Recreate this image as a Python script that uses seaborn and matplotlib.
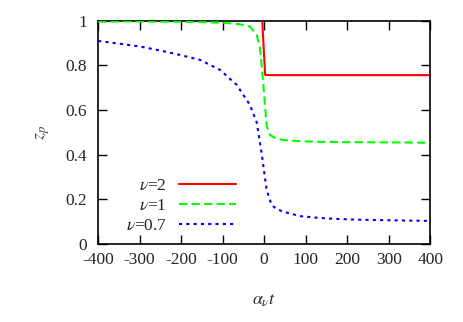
import seaborn as sns
import pandas as pd
import matplotlib.pyplot as plt

# -------------------------------------------------
# Data
# -------------------------------------------------
t_nu2 = [-4.5, -4, 2.4, 20, 100, 200, 300, 400]
z_nu2 = [1.0, 0.98, 0.757, 0.756, 0.756, 0.756, 0.756, 0.756]

t_nu1 = [-400, -300, -200, -100, -60, -34, -18, -10, -2.4, 6, 14, 30, 46, 80, 127, 200, 300, 400]
z_nu1 = [0.996, 0.996, 0.995, 0.991, 0.984, 0.973, 0.936, 0.878, 0.727, 0.53, 0.488, 0.472, 0.466, 0.461, 0.458, 0.456, 0.455, 0.454]

t_nu07 = [-400, -350, -299, -250, -202, -154, -106, -66, -34, -18, -6, 6, 18, 30, 46, 87, 127, 167, 230, 287, 350, 400]
z_nu07 = [0.909, 0.897, 0.884, 0.866, 0.846, 0.824, 0.779, 0.712, 0.622, 0.545, 0.406, 0.242, 0.175, 0.157, 0.145, 0.125, 0.118, 0.113, 0.109, 0.107, 0.105, 0.104]

labels = [r"$\nu$=2", r"$\nu$=1", r"$\nu$=0.7"]

df = pd.concat([
    pd.DataFrame({"t": t_nu2, "z": z_nu2, "nu": labels[0]}),
    pd.DataFrame({"t": t_nu1, "z": z_nu1, "nu": labels[1]}),
    pd.DataFrame({"t": t_nu07, "z": z_nu07, "nu": labels[2]}),
])

# -------------------------------------------------
# Style
# -------------------------------------------------
sns.set_style("ticks")
plt.rcParams["font.family"] = ["Liberation Serif", "DejaVu Serif"]
plt.rcParams["mathtext.fontset"] = "stix"
plt.rcParams["axes.unicode_minus"] = False

colors = {labels[0]: "#ff0000", labels[1]: "#00ff00", labels[2]: "#0000ff"}
dashes = {labels[0]: "", labels[1]: (4, 2), labels[2]: (1.5, 2)}

fig, ax = plt.subplots(figsize=(4.63, 3.22), dpi=100)
sns.lineplot(
    data=df,
    x="t",
    y="z",
    hue="nu",
    style="nu",
    palette=colors,
    dashes=dashes,
    linewidth=1.5,
    ax=ax,
)
for ln in ax.lines:
    ln.set_zorder(3)

ax.set_xlim(-400, 400)
ax.set_ylim(0, 1)
ax.set_xticks(range(-400, 401, 100))
ax.set_yticks([0, 0.2, 0.4, 0.6, 0.8, 1])
ax.set_yticklabels(["0", "0.2", "0.4", "0.6", "0.8", "1"])
ax.tick_params(direction="in", length=6.5, width=1, labelsize=12.5,
               top=True, right=True, color="black")
ax.tick_params(axis="y", pad=8)
ax.tick_params(axis="x", pad=6)
for s in ax.spines.values():
    s.set_linewidth(1.2)
    s.set_color("black")

ax.set_xlabel(r"$\alpha_\nu t$", fontsize=13, labelpad=17)
ax.set_ylabel(r"$z_p$", fontsize=13, labelpad=10, color="#444444")

leg = ax.legend(
    loc="lower right",
    bbox_to_anchor=((236 - 98) / 332, 0.045),
    borderpad=0,
    borderaxespad=0,
    frameon=False,
    markerfirst=False,
    handlelength=3.3,
    handletextpad=0.7,
    labelspacing=0.21,
    fontsize=12.5,
    title=None,
)
for txt in leg.get_texts():
    txt.set_ha("right")

fig.subplots_adjust(left=0.212, right=0.929, top=0.936, bottom=0.242)
fig.savefig("out.png", dpi=100)
